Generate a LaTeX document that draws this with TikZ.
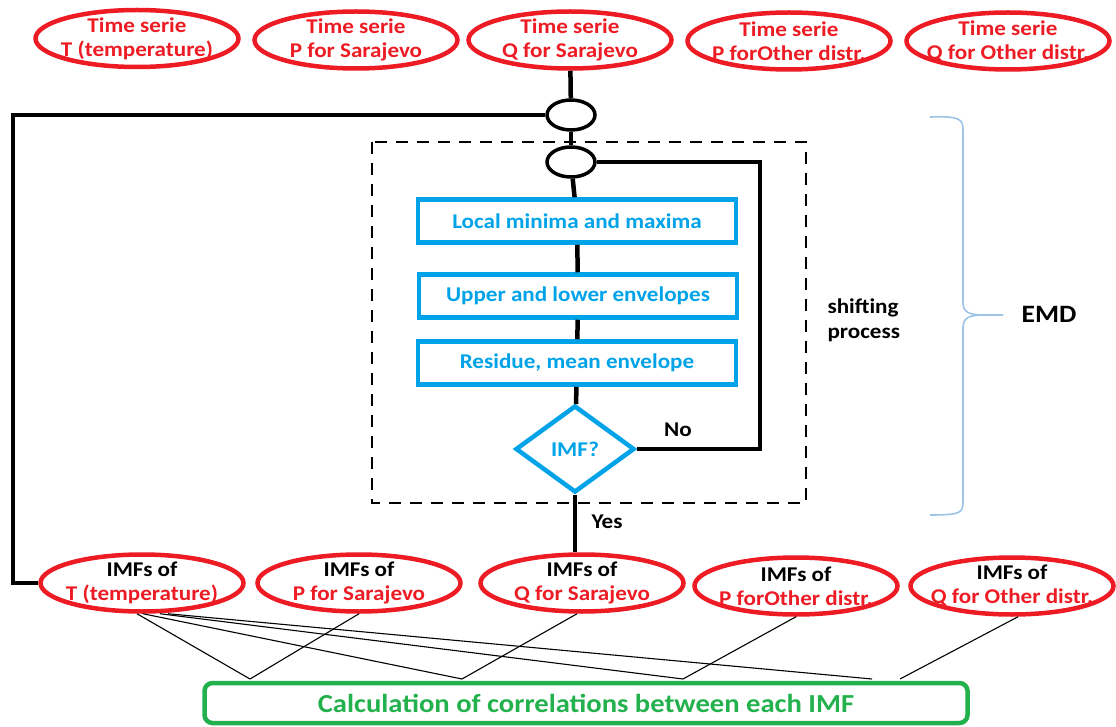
\documentclass[tikz,border=0pt]{standalone}
\usepackage{fontspec}
\setmainfont{Carlito}[FakeStretch=1.1]
\usetikzlibrary{shapes.geometric}
\definecolor{serieRed}{RGB}{237,28,36}
\definecolor{stepBlue}{RGB}{0,162,232}
\definecolor{corrGreen}{RGB}{34,177,76}
\definecolor{braceBlue}{RGB}{157,195,230}

\begin{document}
\begin{tikzpicture}[x=1pt,y=-1pt,
    serie/.style={
% The shape:
      ellipse,
% The size:
      minimum width=203pt, minimum height=57pt,
      inner xsep=-30pt, inner ysep=-12pt,
% The border:
      line width=4.5pt,
      draw=serieRed,
% The text:
      text=serieRed, align=center,
      font=\bfseries\fontsize{21}{24}\selectfont
    },
    imfs/.style={serie, text=black},
    junction/.style={
% The shape:
      ellipse, minimum width=48pt, minimum height=30pt, inner sep=0pt,
% The border:
      line width=3.5pt, draw=black
    },
    stepbox/.style={
% The shape:
      rectangle,
% The size:
      minimum width=318pt, minimum height=43pt,
% The border:
      line width=4.5pt,
      draw=stepBlue,
      text=stepBlue, font=\bfseries\fontsize{21}{24}\selectfont
    },
    imftest/.style={
      diamond, aspect=1.35, minimum width=119pt, minimum height=87pt, inner sep=0pt,
      line width=4.5pt, draw=stepBlue,
      text=stepBlue, font=\bfseries\fontsize{21}{24}\selectfont
    },
    flow/.style={line width=4.5pt},
    link/.style={line width=1.1pt},
    tag/.style={font=\bfseries\fontsize{21}{25}\selectfont}
  ]
  \useasboundingbox (0,0) rectangle (1116,727);

  % time series
  \node [serie] (t1) at (137,38.5) {Time serie\\T (temperature)};
  \node [serie] (t2) at (356,40) {Time serie\\P for Sarajevo};
  \node [serie] (t3) at (570,40) {Time serie\\Q for Sarajevo};
  \node [serie] (t4) at (789,41) {Time serie\\P forOther distr.};
  \node [serie] (t5) at (1008,41) {Time serie\\Q for Other distr.};

  % sifting loop
  \node [junction] (j1) at (571,115) {};
  \node [junction] (j2) at (571,162) {};
  \node [stepbox] (s1) at (577,221) {Local minima and maxima};
  \node [stepbox] (s2) at (578,296) {Upper and lower envelopes};
  \node [stepbox] (s3) at (577,363) {Residue, mean envelope};
  \node [imftest] (d) at (575,449) {IMF?};
  \coordinate (loopL) at (13,300);
  \coordinate (loopR) at (760,300);

  \draw [dashed, dash pattern=on 12pt off 9pt, line width=1.2pt] (372,142) rectangle (806,503);
  \node [tag, anchor=west, align=left] (sp) at (824,320) {shifting\\process};
  \node [tag] (no) at (678,430) {No};
  \node [tag] (yes) at (607,522) {Yes};

  % EMD brace
  \draw [braceBlue, line width=1.6pt]
    (930,117) .. controls (960,116) and (963,119) .. (963,130) -- (963,302)
    .. controls (963,312) and (968,315) .. (985,315) -- (1003,315)
    (985,315) .. controls (968,315) and (963,318) .. (963,328) -- (963,502)
    .. controls (963,513) and (960,515) .. (930,515);
  \node [font=\bfseries\fontsize{25}{30}\selectfont] (emd) at (1049,314) {EMD};

  % IMFs
  \node [imfs] (b1) at (142,583) {IMFs of\\\textcolor{serieRed}{T (temperature)}};
  \node [imfs] (b2) at (359,583) {IMFs of\\\textcolor{serieRed}{P for Sarajevo}};
  \node [imfs] (b3) at (582,583) {IMFs of\\\textcolor{serieRed}{Q for Sarajevo}};
  \node [imfs] (b4) at (796,586) {IMFs of\\\textcolor{serieRed}{P forOther distr.}};
  \node [imfs] (b5) at (1012,586) {IMFs of\\\textcolor{serieRed}{Q for Other distr.}};

  \draw [flow] (t3) -- (j1);
  \draw [flow] (j1) -- (j2);
  \draw [flow] (j2) -- (s1);
  \draw [flow] (s1) -- (s2);
  \draw [flow] (s2) -- (s3);
  \draw [flow] (s3) -- (d);
  \draw [flow] (d.east) -| (loopR) |- (j2.east);
  \draw [flow] (d.south) -- (d.south |- b3.north);
  \draw [flow] (j1.west) -| (loopL) |- (b1.west);

  % correlations
  \node [rectangle, rounded corners=8pt, minimum width=763pt, minimum height=40pt,
    line width=4.5pt, draw=corrGreen, text=corrGreen,
    font=\bfseries\fontsize{26}{30}\selectfont] (corr) at (586,703)
    {Calculation of correlations between each IMF};
  \coordinate (m1) at (250,679);
  \coordinate (m2) at (462,679);
  \coordinate (m3) at (683,679);
  \coordinate (m4) at (872,679);
  \coordinate (m5) at (900,679);
  \draw [link] ([xshift=-5pt]b1.south) -- (m1);
  \draw [link] ([xshift=1pt]b1.south) -- (m2);
  \draw [link] ([xshift=18pt]b1.south) -- (m3);
  \draw [link] ([xshift=26pt]b1.south) -- (m4);
  \draw [link] (b2.south) -- (m1);
  \draw [link] ([xshift=-5pt]b3.south) -- (m2);
  \draw [link] (b4.south) -- (m3);
  \draw [link] ([xshift=6pt]b5.south) -- (m5);
\end{tikzpicture}
\end{document}
